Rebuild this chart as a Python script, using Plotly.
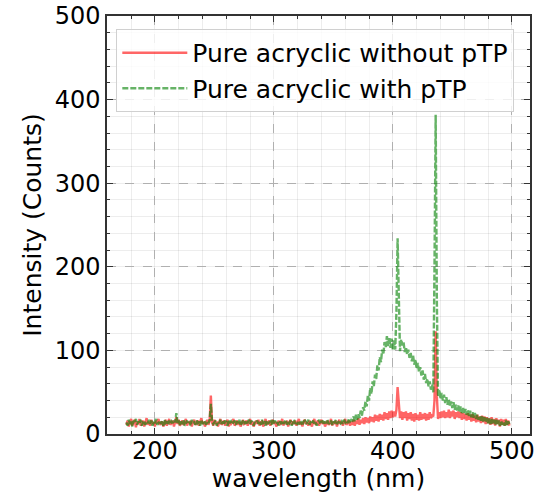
import numpy as np
import plotly.graph_objects as go

# wavelength grid (nm), 1 nm sampling from 176 to 498
wavelength = list(range(176, 499))

red_without_ptp = [
    11, 16, 9, 14, 18, 10, 13, 17, 8, 15,
    12, 18, 10, 14, 16, 9, 13, 19, 11, 15,
    10, 17, 12, 14, 9, 16, 13, 18, 11, 14,
    15, 9, 12, 17, 10, 14, 18, 11, 13, 16,
    9, 15, 20, 12, 17, 10, 14, 16, 11, 13,
    18, 10, 15, 12, 16, 9, 14, 17, 11, 13,
    16, 10, 14, 19, 12, 15, 9, 13, 17, 11,
    16, 46, 14, 10, 17, 12, 15, 9, 13, 18,
    11, 14, 16, 10, 13, 17, 9, 15, 12, 14,
    18, 10, 13, 16, 11, 15, 9, 14, 17, 12,
    13, 16, 10, 14, 18, 11, 15, 9, 13, 16,
    12, 17, 10, 14, 15, 9, 13, 18, 11, 14,
    16, 10, 13, 17, 12, 15, 9, 14, 16, 11,
    13, 18, 10, 15, 12, 16, 9, 14, 17, 11,
    15, 12, 16, 10, 13, 18, 11, 14, 9, 15,
    17, 12, 14, 10, 16, 13, 9, 15, 18, 11,
    14, 16, 10, 13, 17, 12, 15, 9, 14, 16,
    11, 13, 18, 10, 15, 12, 16, 9, 14, 17,
    12, 15, 10, 14, 18, 11, 13, 16, 10, 15,
    11, 17, 10, 16, 12, 19, 11, 17, 13, 19,
    12, 20, 14, 19, 13, 21, 15, 20, 14, 23,
    16, 22, 15, 24, 17, 23, 16, 26, 18, 25,
    17, 27, 19, 28, 20, 27, 21, 29, 56, 31,
    19, 27, 17, 26, 19, 27, 16, 25, 18, 26,
    16, 24, 15, 25, 17, 23, 16, 26, 17, 24,
    18, 25, 16, 24, 17, 26, 19, 22, 21, 40,
    123, 45, 18, 26, 19, 27, 20, 28, 19, 26,
    20, 29, 19, 27, 21, 28, 18, 26, 20, 27,
    19, 26, 17, 25, 18, 24, 16, 25, 17, 23,
    15, 24, 16, 22, 14, 23, 15, 21, 13, 22,
    14, 21, 12, 20, 13, 19, 11, 20, 12, 18,
    10, 19, 12, 17, 9, 18, 11, 17, 10, 18,
    11, 16, 10,
]

green_with_ptp = [
    14, 10, 17, 12, 15, 9, 16, 13, 18, 11,
    15, 12, 17, 10, 14, 16, 11, 15, 13, 17,
    12, 16, 10, 15, 13, 18, 11, 14, 16, 12,
    15, 10, 17, 13, 14, 11, 16, 12, 15, 13,
    17, 14, 25, 13, 16, 11, 15, 12, 17, 10,
    14, 16, 12, 15, 10, 17, 13, 14, 11, 16,
    13, 15, 10, 17, 12, 14, 16, 11, 15, 13,
    17, 36, 15, 12, 14, 16, 10, 15, 13, 17,
    12, 15, 11, 16, 14, 10, 17, 13, 15, 12,
    14, 16, 11, 15, 13, 17, 10, 14, 16, 12,
    15, 11, 14, 17, 12, 16, 13, 10, 15, 14,
    16, 12, 15, 11, 17, 13, 14, 10, 16, 12,
    14, 15, 11, 17, 13, 16, 12, 14, 10, 15,
    13, 16, 12, 14, 17, 11, 15, 13, 16, 10,
    14, 17, 12, 15, 11, 16, 13, 14, 10, 15,
    16, 12, 14, 17, 11, 15, 13, 16, 12, 14,
    10, 15, 17, 12, 14, 16, 11, 15, 13, 17,
    12, 14, 16, 11, 15, 13, 17, 12, 14, 16,
    13, 15, 12, 17, 14, 16, 13, 18, 15, 17,
    16, 21, 15, 23, 17, 24, 19, 28, 22, 32,
    28, 39, 33, 46, 40, 55, 48, 63, 57, 71,
    66, 82, 76, 92, 86, 101, 95, 110, 104, 117,
    105, 116, 103, 114, 100, 112, 101, 145, 234, 150,
    99, 113, 106, 110, 98, 104, 95, 101, 91, 97,
    87, 94, 83, 89, 78, 85, 74, 80, 70, 76,
    65, 72, 61, 66, 57, 63, 53, 59, 50, 200,
    382, 160, 45, 53, 42, 49, 40, 47, 37, 44,
    35, 42, 33, 39, 31, 38, 29, 35, 28, 34,
    26, 33, 25, 31, 24, 30, 23, 29, 21, 28,
    20, 26, 19, 25, 18, 23, 17, 22, 16, 21,
    15, 20, 14, 19, 13, 19, 12, 18, 12, 17,
    11, 17, 12, 16, 10, 16, 11, 15, 10, 16,
    11, 15, 12,
]

series_names = ["Pure acryclic without pTP", "Pure acryclic with pTP"]
x_ticks = [200, 300, 400, 500]
y_ticks = [0, 100, 200, 300, 400, 500]

FONT = "DejaVu Sans"

fig = go.Figure()
fig.add_trace(go.Scatter(
    x=wavelength, y=red_without_ptp, mode="lines", name=series_names[0],
    line=dict(color="rgba(255,0,0,0.6)", width=2.4),
))
fig.add_trace(go.Scatter(
    x=wavelength, y=green_with_ptp, mode="lines", name=series_names[1],
    line=dict(color="rgba(0,128,0,0.6)", width=2.4, dash="6px,2px"),
))

axis_common = dict(
    automargin=False,
    showline=True, linecolor="#333333", linewidth=1.5, mirror="allticks",
    ticks="inside", ticklen=6, tickwidth=1.2, tickcolor="#333333",
    showgrid=True, gridcolor="#b0b0b0", gridwidth=1, griddash="dash",
    zeroline=False, ticklabeloverflow="allow",
    tickfont=dict(family=FONT, size=24, color="black"),
)

minor_common = dict(dtick=20, ticks="inside", ticklen=3, tickcolor="#333333",
                    showgrid=True, gridcolor="rgba(0,0,0,0.07)", gridwidth=1,
                    griddash="solid")

fig.update_xaxes(
    **axis_common,
    range=[159.7, 515.3], tickvals=x_ticks,
    minor=minor_common,
    ticklabelstandoff=-6,
    title=dict(text="wavelength (nm)", font=dict(family=FONT, size=25, color="black"),
               standoff=8),
)
fig.update_yaxes(
    **axis_common,
    range=[0, 500], tickvals=y_ticks,
    minor=minor_common,
    title=dict(text="Intensity (Counts)", font=dict(family=FONT, size=25, color="black"),
               standoff=6),
)

fig.update_layout(
    width=539, height=493,
    margin=dict(l=107, r=9, t=16, b=59, autoexpand=False),
    paper_bgcolor="white", plot_bgcolor="white",
    showlegend=True,
    legend=dict(
        x=0.022, y=0.969, xanchor="left", yanchor="top",
        bgcolor="rgba(255,255,255,0.8)", bordercolor="#d0d0d0", borderwidth=1,
        font=dict(family=FONT, size=25, color="black"),
        itemwidth=65, tracegroupgap=0,
    ),
)

fig.write_html(
    "out.html",
    config={"displayModeBar": False},
    post_script="document.body.style.margin='0';document.body.style.overflow='hidden';",
)
